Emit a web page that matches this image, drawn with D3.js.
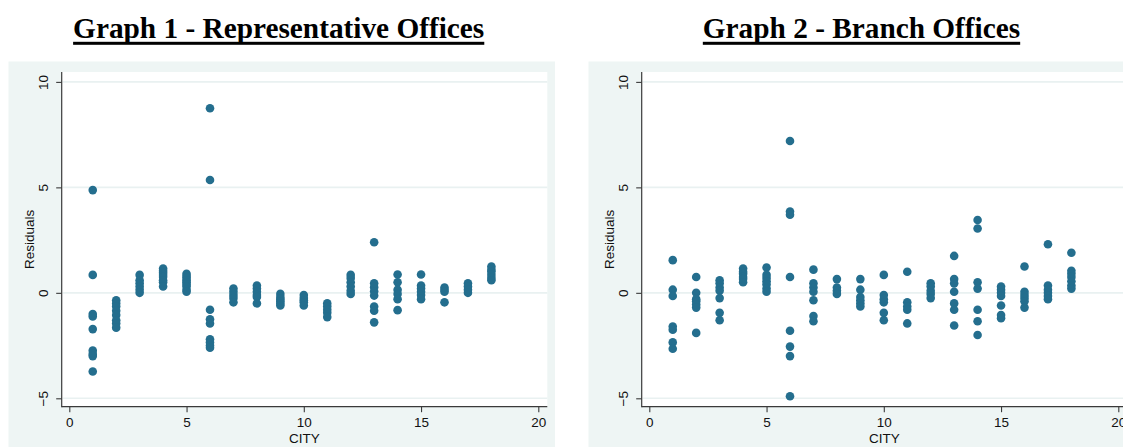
<!DOCTYPE html>
<html>
<head>
<meta charset="utf-8">
<script src="https://cdn.jsdelivr.net/npm/d3@7"></script>
<style>
  html, body { margin: 0; padding: 0; background: #ffffff; }
  svg { display: block; }
</style>
</head>
<body>
<svg id="chart" width="1123" height="448"></svg>
<script>
// ---------------- data ----------------
const titles = ["Graph 1 - Representative Offices", "Graph 2 - Branch Offices"];
const xAxisLabel = "CITY";
const yAxisLabel = "Residuals";
const xTicks = [0, 5, 10, 15, 20];
const yTicks = [-5, 0, 5, 10];
const cities = [1, 2, 3, 4, 5, 6, 7, 8, 9, 10, 11, 12, 13, 14, 15, 16, 17, 18];

// residuals per city (Graph 1 - Representative Offices)
const repResiduals = [
  [4.87, 0.85, -1.0, -1.12, -1.72, -2.74, -2.9, -3.0, -3.73],
  [-0.35, -0.5, -0.65, -0.85, -1.05, -1.3, -1.45, -1.65],
  [0.85, 0.6, 0.45, 0.3, 0.15, 0.0],
  [1.15, 1.05, 0.95, 0.85, 0.75, 0.6, 0.5, 0.3],
  [0.9, 0.8, 0.7, 0.6, 0.5, 0.4, 0.3, 0.15, 0.05],
  [8.75, 5.35, -0.8, -1.25, -1.45, -2.2, -2.35, -2.5, -2.6],
  [0.2, 0.05, -0.1, -0.25, -0.45],
  [0.35, 0.2, 0.05, -0.1, -0.2, -0.5],
  [-0.05, -0.2, -0.3, -0.4, -0.5, -0.6],
  [-0.1, -0.25, -0.35, -0.45, -0.6],
  [-0.5, -0.65, -0.8, -0.95, -1.15],
  [0.85, 0.7, 0.5, 0.3, 0.1, -0.05],
  [2.4, 0.45, 0.27, 0.07, -0.13, -0.65, -0.85, -1.4],
  [0.87, 0.5, 0.15, -0.05, -0.3, -0.82],
  [0.87, 0.35, 0.2, 0.05, -0.1, -0.3],
  [0.25, 0.15, 0.05, -0.45],
  [0.45, 0.3, 0.15, 0.0],
  [1.25, 1.1, 1.0, 0.85, 0.7, 0.6]
];

// residuals per city (Graph 2 - Branch Offices)
const branchResiduals = [
  [1.55, 0.15, -0.15, -1.6, -1.75, -2.35, -2.65],
  [0.75, 0.0, -0.3, -0.4, -0.55, -0.7, -1.9],
  [0.6, 0.45, 0.25, 0.1, -0.25, -0.95, -1.3],
  [1.15, 1.0, 0.9, 0.75, 0.65, 0.5],
  [1.2, 0.85, 0.7, 0.55, 0.4, 0.2, 0.05],
  [7.2, 3.85, 3.7, 0.75, -1.8, -2.55, -3.0, -4.9],
  [1.1, 0.45, 0.25, 0.05, -0.35, -1.1, -1.35],
  [0.65, 0.25, 0.1, -0.05],
  [0.65, 0.15, -0.2, -0.35, -0.5, -0.65],
  [0.85, -0.1, -0.3, -0.45, -0.95, -1.3],
  [1.0, -0.45, -0.65, -0.8, -1.45],
  [0.45, 0.3, 0.1, -0.05, -0.25],
  [1.75, 0.65, 0.45, 0.05, -0.5, -0.8, -1.55],
  [3.45, 3.05, 0.5, 0.2, -0.8, -1.35, -2.0],
  [0.3, 0.15, 0.0, -0.15, -0.6, -1.05, -1.2],
  [1.25, 0.05, -0.1, -0.25, -0.4, -0.7],
  [2.3, 0.35, 0.15, 0.0, -0.15, -0.3],
  [1.9, 1.05, 0.9, 0.75, 0.55, 0.35, 0.2]
];

// ---------------- drawing ----------------
const svg = d3.select("#chart");
const markerColor = "#246e8e";
const bgColor = "#eef5f4";
const gridColor = "#e9f1f1";
const axisColor = "#3a3a3a";
const sansFont = "'Liberation Sans', Arial, Helvetica, sans-serif";

function drawPanel(offsetX, title, titleCenter, residuals) {
  const g = svg.append("g").attr("transform", `translate(${offsetX},0)`);

  // outer graph region
  g.append("rect").attr("x", 8.5).attr("y", 61.5).attr("width", 546.5).attr("height", 385.5)
    .attr("fill", bgColor);

  // plot region
  const left = 61.7, right = 547.3, top = 72, bottom = 406.7;
  g.append("rect").attr("x", left).attr("y", top).attr("width", right - left).attr("height", bottom - top)
    .attr("fill", "#ffffff");

  const x = d3.scaleLinear().domain([0, 20]).range([69.3, 538.3]);
  const y = d3.scaleLinear().domain([-5, 10]).range([398.3, 81.9]);

  // gridlines
  g.append("g").selectAll("line").data(yTicks).join("line")
    .attr("x1", left + 1).attr("x2", right)
    .attr("y1", d => y(d)).attr("y2", d => y(d))
    .attr("stroke", gridColor).attr("stroke-width", 1.6);

  // y axis
  const yAxis = g.append("g").attr("transform", `translate(${left},0)`)
    .call(d3.axisLeft(y).tickValues(yTicks).tickSize(5.5).tickSizeOuter(0).tickFormat(d3.format("d")));
  yAxis.select(".domain").remove();
  yAxis.selectAll(".tick line").attr("stroke", axisColor).attr("stroke-width", 1.1);
  yAxis.selectAll(".tick text")
    .attr("x", null).attr("dy", null)
    .attr("transform", "translate(-14,0) rotate(-90)")
    .attr("text-anchor", "middle")
    .attr("fill", "#111")
    .style("font-family", sansFont).style("font-size", "13.5px");

  // x axis
  const xAxis = g.append("g").attr("transform", `translate(0,${bottom})`)
    .call(d3.axisBottom(x).tickValues(xTicks).tickSize(5.5).tickSizeOuter(0).tickFormat(d3.format("d")));
  xAxis.select(".domain").remove();
  xAxis.selectAll(".tick line").attr("stroke", axisColor).attr("stroke-width", 1.1);
  xAxis.selectAll(".tick text")
    .attr("y", 20.5).attr("dy", null)
    .attr("fill", "#111")
    .style("font-family", sansFont).style("font-size", "13.5px");

  // axis lines
  g.append("line").attr("x1", left).attr("x2", left).attr("y1", top).attr("y2", bottom + 0.5)
    .attr("stroke", axisColor).attr("stroke-width", 1.2);
  g.append("line").attr("x1", left).attr("x2", right).attr("y1", bottom).attr("y2", bottom)
    .attr("stroke", axisColor).attr("stroke-width", 1.2);

  // axis titles
  g.append("text").attr("x", (left + right) / 2).attr("y", 443)
    .attr("text-anchor", "middle").attr("fill", "#111")
    .style("font-family", sansFont).style("font-size", "13.5px").text(xAxisLabel);
  g.append("text")
    .attr("transform", `translate(34,${(top + bottom) / 2}) rotate(-90)`)
    .attr("text-anchor", "middle").attr("fill", "#111")
    .style("font-family", sansFont).style("font-size", "13.5px").text(yAxisLabel);

  // points
  const pts = [];
  cities.forEach((c, i) => residuals[i].forEach(v => pts.push({ c, v })));
  g.append("g").selectAll("circle").data(pts).join("circle")
    .attr("cx", d => x(d.c)).attr("cy", d => y(d.v)).attr("r", 4.3)
    .attr("fill", markerColor);

  // title with underline
  const t = svg.append("text").attr("x", titleCenter).attr("y", 38.3)
    .attr("text-anchor", "middle").attr("fill", "#000")
    .style("font-family", "'Liberation Serif', 'Times New Roman', serif")
    .style("font-weight", "bold").style("font-size", "29.3px").text(title);
  const w = t.node().getComputedTextLength();
  svg.append("rect").attr("x", titleCenter - w / 2).attr("y", 41.8).attr("width", w).attr("height", 3)
    .attr("fill", "#000");
}

drawPanel(0, titles[0], 278.7, repResiduals);
drawPanel(580, titles[1], 861.5, branchResiduals);
</script>
</body>
</html>
